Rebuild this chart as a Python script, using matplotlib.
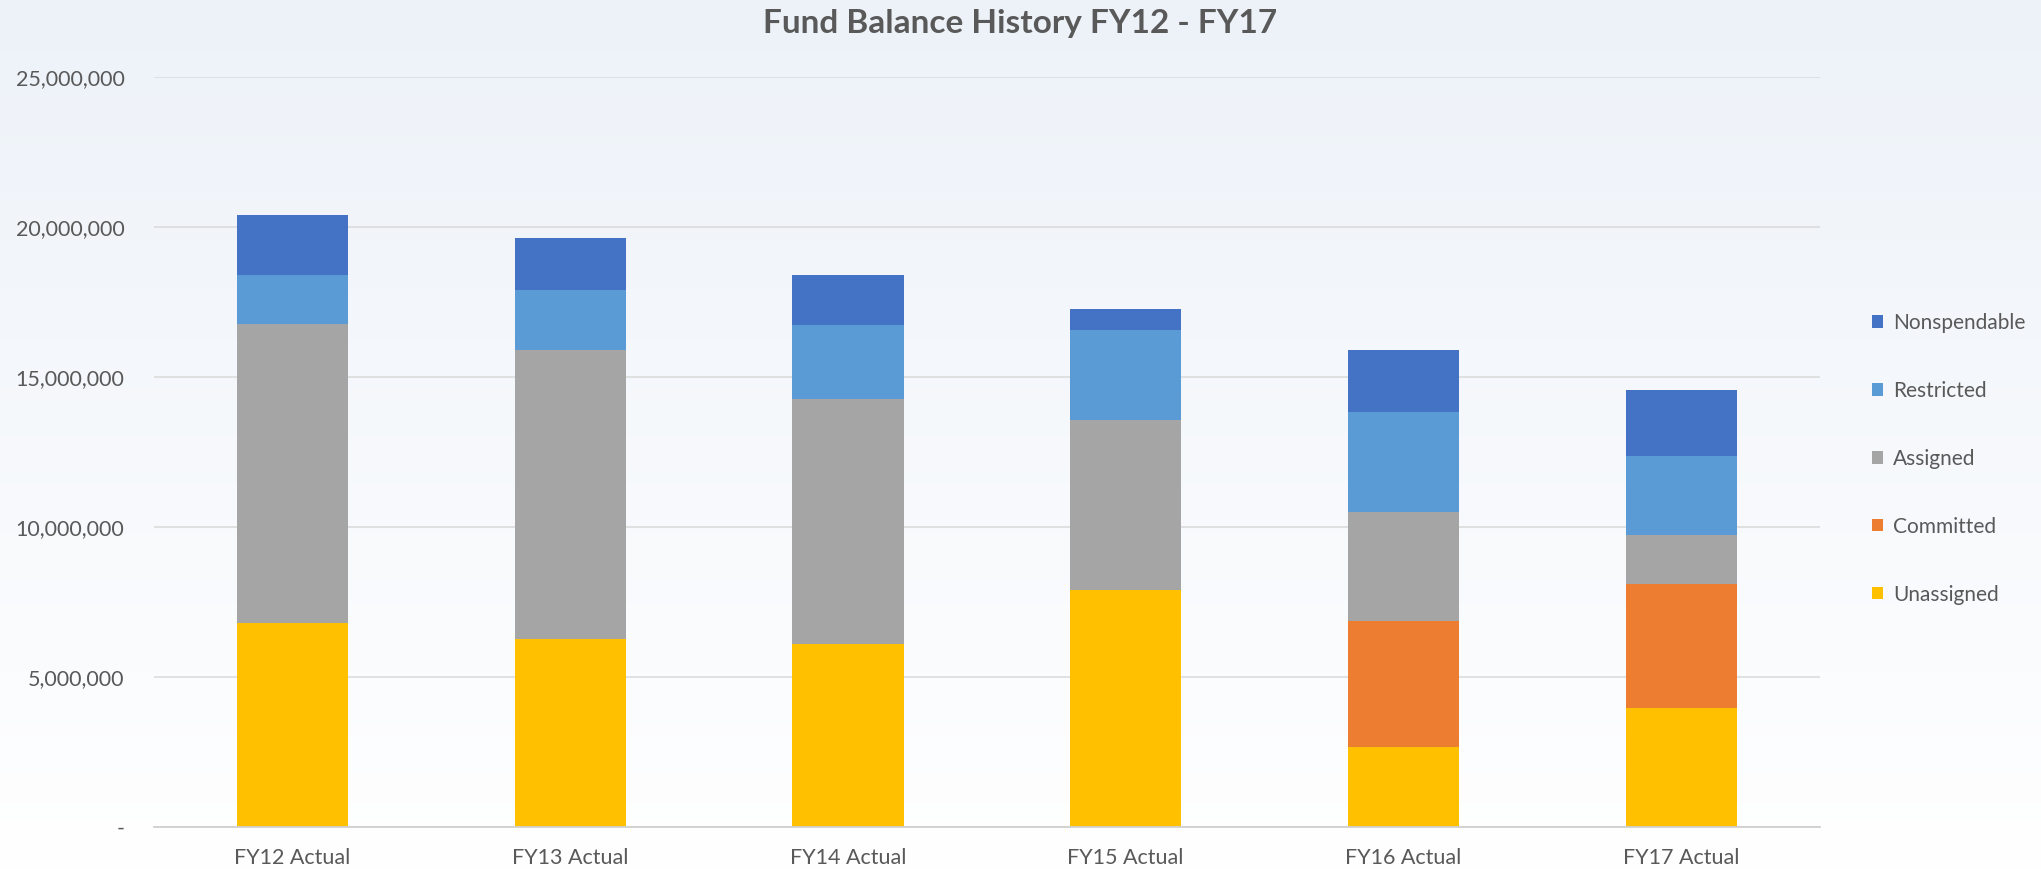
import numpy as np
import matplotlib
matplotlib.use("Agg")
import matplotlib.pyplot as plt
from matplotlib.patches import Patch

categories = ["FY12 Actual", "FY13 Actual", "FY14 Actual", "FY15 Actual", "FY16 Actual", "FY17 Actual"]
unassigned   = [6.81e6, 6.28e6, 6.11e6, 7.89e6, 2.67e6, 3.95e6]
committed    = [0, 0, 0, 0, 4.20e6, 4.16e6]
assigned     = [9.96e6, 9.60e6, 8.15e6, 5.67e6, 3.62e6, 1.61e6]
restricted   = [1.62e6, 2.03e6, 2.46e6, 3.00e6, 3.33e6, 2.64e6]
nonspendable = [2.00e6, 1.72e6, 1.69e6, 0.70e6, 2.06e6, 2.19e6]
series_names = ["Unassigned", "Committed", "Assigned", "Restricted", "Nonspendable"]
yticks = [0, 5e6, 10e6, 15e6, 20e6, 25e6]
ytick_labels = ["-", "5,000,000", "10,000,000", "15,000,000", "20,000,000", "25,000,000"]
title = "Fund Balance History FY12 - FY17"

colors = ["#FFC000", "#ED7D31", "#A5A5A5", "#5B9BD5", "#4472C4"]
text_color = "#595959"
plt.rcParams['font.family'] = ['Lato', 'DejaVu Sans']

fig = plt.figure(figsize=(20.41, 8.72), dpi=100)

# background gradient
bg = fig.add_axes([0, 0, 1, 1], zorder=-10)
top = np.array([237, 242, 249]) / 255.0
bot = np.array([255, 255, 255]) / 255.0
t = np.linspace(0, 1, 256)[:, None]
grad = top[None, :] * (1 - t) + bot[None, :] * t
bg.imshow(grad[:, None, :], aspect='auto', extent=[0, 1, 0, 1])
bg.set_axis_off()

ax = fig.add_axes([0.0753, 0.0516, 0.8164, 0.8604])
ax.set_facecolor("none")
x = np.arange(len(categories))
series = [unassigned, committed, assigned, restricted, nonspendable]
bottom = np.zeros(len(categories))
handles = []
for name, vals, c in zip(series_names, series, colors):
    v = np.array(vals, dtype=float)
    ax.bar(x, v, width=0.40, bottom=bottom, color=c, edgecolor="none", zorder=3, label=name)
    bottom += v
    handles.append(Patch(facecolor=c, edgecolor="none", label=name))

ax.set_xlim(-0.5, len(categories) - 0.5)
ax.set_ylim(0, 25e6)
ax.set_yticks(yticks)
ax.set_yticklabels(ytick_labels)
ax.set_xticks(x)
ax.set_xticklabels(categories)
ax.tick_params(axis='both', length=0, labelsize=15.5, colors=text_color)
ax.tick_params(axis='y', pad=21)
ax.tick_params(axis='x', pad=15)
ax.grid(axis='y', color="#D9D9D9", linewidth=1.1, zorder=0)
for s in ["top", "right", "left"]:
    ax.spines[s].set_visible(False)
ax.spines["bottom"].set_color("#D0D0D0")
ax.spines["bottom"].set_linewidth(1.3)
ax.spines["bottom"].set_zorder(4)

fig.text(0.5, 0.973, title, ha='center', va='center', fontsize=24,
         fontweight='bold', color=text_color)

leg = fig.legend(handles=handles[::-1], loc='center left',
                 bbox_to_anchor=(0.908, 0.474), frameon=False, fontsize=15,
                 labelcolor=text_color, handlelength=0.55, handleheight=0.55,
                 handletextpad=0.45, labelspacing=2.3)

fig.savefig("out.png", dpi=100)
